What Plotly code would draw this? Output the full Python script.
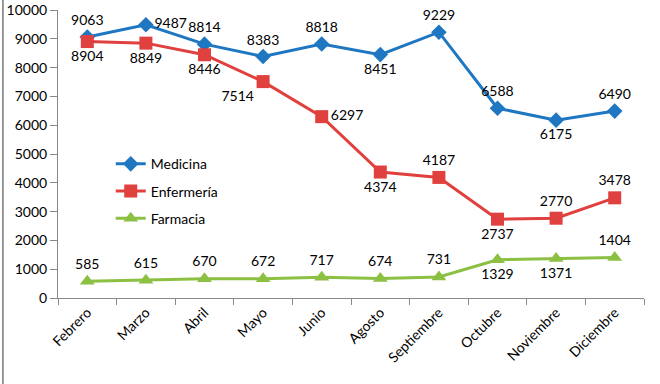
import plotly.graph_objects as go

meses = ["Febrero", "Marzo", "Abril", "Mayo", "Junio", "Agosto", "Septiembre",
         "Octubre", "Noviembre", "Diciembre"]
medicina = [9063, 9487, 8814, 8383, 8818, 8451, 9229, 6588, 6175, 6490]
enfermeria = [8904, 8849, 8446, 7514, 6297, 4374, 4187, 2737, 2770, 3478]
farmacia = [585, 615, 670, 672, 717, 674, 731, 1329, 1371, 1404]

pos_med = ["top center", "middle right", "top center", "top center", "top center",
           "bottom center", "top center", "top center", "bottom center", "top center"]
pos_enf = ["bottom center", "bottom center", "bottom center", "bottom left", "middle right",
           "bottom center", "top center", "bottom center", "top center", "top center"]
pos_far = ["top center"] * 7 + ["bottom center", "bottom center", "top center"]

FONT = "Lato, 'Open Sans', sans-serif"
fig = go.Figure()
series = [
    ("Medicina", medicina, pos_med, "#1F77C2", "diamond", 12),
    ("Enfermería", enfermeria, pos_enf, "#E0403E", "square", 13),
    ("Farmacia", farmacia, pos_far, "#8CC043", "triangle-up", 13),
]
for name, vals, pos, col, sym, sz in series:
    fig.add_trace(go.Scatter(x=meses, y=vals, name=name, legendgroup=name,
                             mode="lines+markers+text",
                             line=dict(color=col, width=3),
                             marker=dict(symbol=sym, size=sz, color=col),
                             text=[str(v) for v in vals], textposition=pos,
                             cliponaxis=False,
                             textfont=dict(size=14, color="#000000", family=FONT)))

fig.update_layout(
    width=660, height=384,
    margin=dict(l=58, r=16, t=10, b=86),
    paper_bgcolor="white", plot_bgcolor="white",
    font=dict(family=FONT, size=14, color="#000000"),
    showlegend=True,
    legend=dict(x=0.09, y=0.52, xanchor="left", yanchor="top",
                bgcolor="rgba(0,0,0,0)", font=dict(size=14),
                tracegroupgap=6, itemwidth=30),
    xaxis=dict(showgrid=False, showline=True, linecolor="#888888", linewidth=1,
               ticks="outside", ticklen=6, tickcolor="#888888",
               tickson="boundaries", tickangle=-45, range=[-0.5, 9.5],
               tickfont=dict(size=14), automargin=False),
    yaxis=dict(showgrid=False, showline=True, linecolor="#888888", linewidth=1,
               ticks="outside", ticklen=7, tickcolor="#888888",
               range=[0, 10000], dtick=1000, zeroline=False, tickformat="d",
               tickfont=dict(size=14), automargin=False),
    shapes=[dict(type="line", xref="paper", yref="paper", x0=-0.094, x1=-0.094,
                 y0=-0.3, y1=1.035, line=dict(color="#777777", width=1.5))],
)

fig.write_html("out.html", config={"displayModeBar": False},
               post_script="document.body.style.margin='0';document.body.style.overflow='hidden';")
